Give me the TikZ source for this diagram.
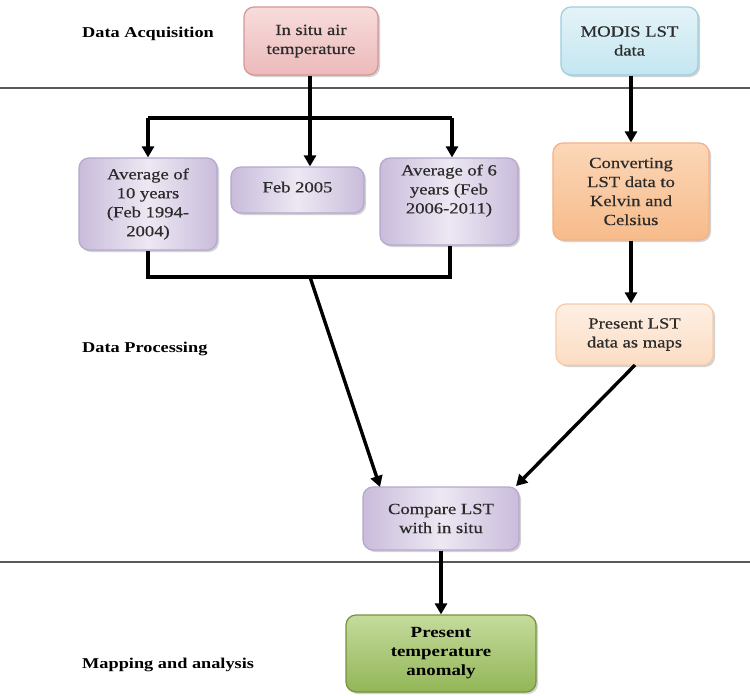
\documentclass[tikz,border=0pt]{standalone}
\usepackage{fontspec}
\setmainfont[FakeStretch=1.22]{Liberation Serif}
\newfontfamily\boxfont[FakeStretch=1.2,FakeBold=0.5]{Liberation Serif}
\usetikzlibrary{arrows.meta,shadows,calc}
\definecolor{txt}{HTML}{2B2B2B}
\tikzset{
  box/.style={rounded corners=10pt, draw=#1, line width=1.2pt, align=center, text=txt,
    font=\boxfont\fontsize{15.5}{19}\selectfont, inner sep=2pt,
    drop shadow={shadow xshift=2pt, shadow yshift=-2pt, opacity=0.35, fill=gray}},
  pinkbox/.style={box=pinkb, top color=pinkl, bottom color=pinkd},
  bluebox/.style={box=blueb, top color=bluel, bottom color=blued},
  purplebox/.style={box=purpb, left color=purpd, right color=purpd, middle color=purpl},
  orangebox/.style={box=orab, top color=oral, bottom color=orad},
  lorangebox/.style={box=lorab, top color=loral, bottom color=lorad},
  greenbox/.style={box=greenb, top color=greenl, bottom color=greend, font=\bfseries\fontsize{15.5}{19}\selectfont, text=black},
  conn/.style={line width=3.4pt, black},
  arr/.style={conn, -{Triangle[length=11pt,width=12pt]}},
  sep/.style={line width=1.3pt, draw=gray!70!black},
  lab/.style={anchor=base west, font=\bfseries\fontsize{15}{18}\selectfont, inner sep=0pt}
}
\definecolor{pinkb}{HTML}{D99594}\definecolor{pinkl}{HTML}{F7DCDC}\definecolor{pinkd}{HTML}{ECBABA}
\definecolor{blueb}{HTML}{9CCFE0}\definecolor{bluel}{HTML}{E4F3F8}\definecolor{blued}{HTML}{C4E6F1}
\definecolor{purpb}{HTML}{B6A7CC}\definecolor{purpl}{HTML}{EDE8F3}\definecolor{purpd}{HTML}{C9BCDB}
\definecolor{orab}{HTML}{F4B183}\definecolor{oral}{HTML}{FBD7B8}\definecolor{orad}{HTML}{F7BB8A}
\definecolor{lorab}{HTML}{F8CBA8}\definecolor{loral}{HTML}{FEF0E4}\definecolor{lorad}{HTML}{FBDCC3}
\definecolor{greenb}{HTML}{77933C}\definecolor{greenl}{HTML}{C5DB9C}\definecolor{greend}{HTML}{92B657}
\begin{document}
\begin{tikzpicture}[x=1pt,y=-1pt]
\useasboundingbox (0,0) rectangle (750,696);
\fill[white] (0,0) rectangle (750,696);
% separators
\coordinate (s1a) at (0,88); \coordinate (s1b) at (750,88);
\coordinate (s2a) at (0,562); \coordinate (s2b) at (750,562);
\draw[sep] (s1a) -- (s1b);
\draw[sep] (s2a) -- (s2b);
% labels
\node[lab] (l1) at (82,37) {Data Acquisition};
\node[lab] (l2) at (82,352) {Data Processing};
\node[lab] (l3) at (82,668) {Mapping and analysis};
% boxes
\node[pinkbox, minimum width=134pt, minimum height=68pt] (insitu) at (311,41) {In situ air\\temperature};
\node[bluebox, minimum width=137pt, minimum height=68pt] (modis) at (629.5,41) {MODIS LST\\data};
\node[purplebox, minimum width=138pt, minimum height=92pt] (avg10) at (148,204) {Average of\\10 years\\(Feb 1994-\\2004)};
\node[purplebox, minimum width=133pt, minimum height=46pt, text depth=0pt] (feb) at (297.5,190) {\raisebox{6pt}{Feb 2005}};
\node[purplebox, minimum width=138pt, minimum height=87pt] (avg6) at (449,201.5) {Average of 6\\years (Feb\\2006-2011)\\[6pt]};
\node[orangebox, minimum width=156pt, minimum height=97pt] (conv) at (631,191.5) {Converting\\LST data to\\Kelvin and\\Celsius};
\node[lorangebox, minimum width=157pt, minimum height=61pt] (plst) at (634.5,334.5) {Present LST\\data as maps};
\node[purplebox, minimum width=156pt, minimum height=63pt] (comp) at (441,518.5) {Compare LST\\with in situ};
\node[greenbox, minimum width=190pt, minimum height=77pt] (anom) at (441,653.5) {Present\\temperature\\anomaly};
% connectors
\coordinate (b1) at (148,118);
\coordinate (b2) at (452,118);
\coordinate (bs) at (310,118);
\draw[conn] (insitu.south -| bs) -- (bs);
\draw[conn] (b1) -- (b2);
\draw[arr] (bs) -- (bs |- feb.north);
\draw[arr] (b1) -- (avg10.north);
\draw[arr] (b2) -- (b2 |- avg6.north);
\coordinate (c1) at (148,277);
\coordinate (c2) at (450,277);
\coordinate (cm) at (310,277);
\coordinate (ct) at (380,487);
\draw[conn, line join=miter] (avg10.south) -- (c1) -- (c2) -- (c2 |- avg6.south);
\draw[arr] (cm) -- (ct);
\draw[arr] (conv.north |- modis.south) -- (conv.north);
\draw[arr] (conv.south) -- (conv.south |- plst.north);
\coordinate (p1) at (635,365);
\coordinate (ct2) at (516,486);
\draw[arr] (p1) -- (ct2);
\draw[arr] (comp.south) -- (anom.north);
\end{tikzpicture}
\end{document}
